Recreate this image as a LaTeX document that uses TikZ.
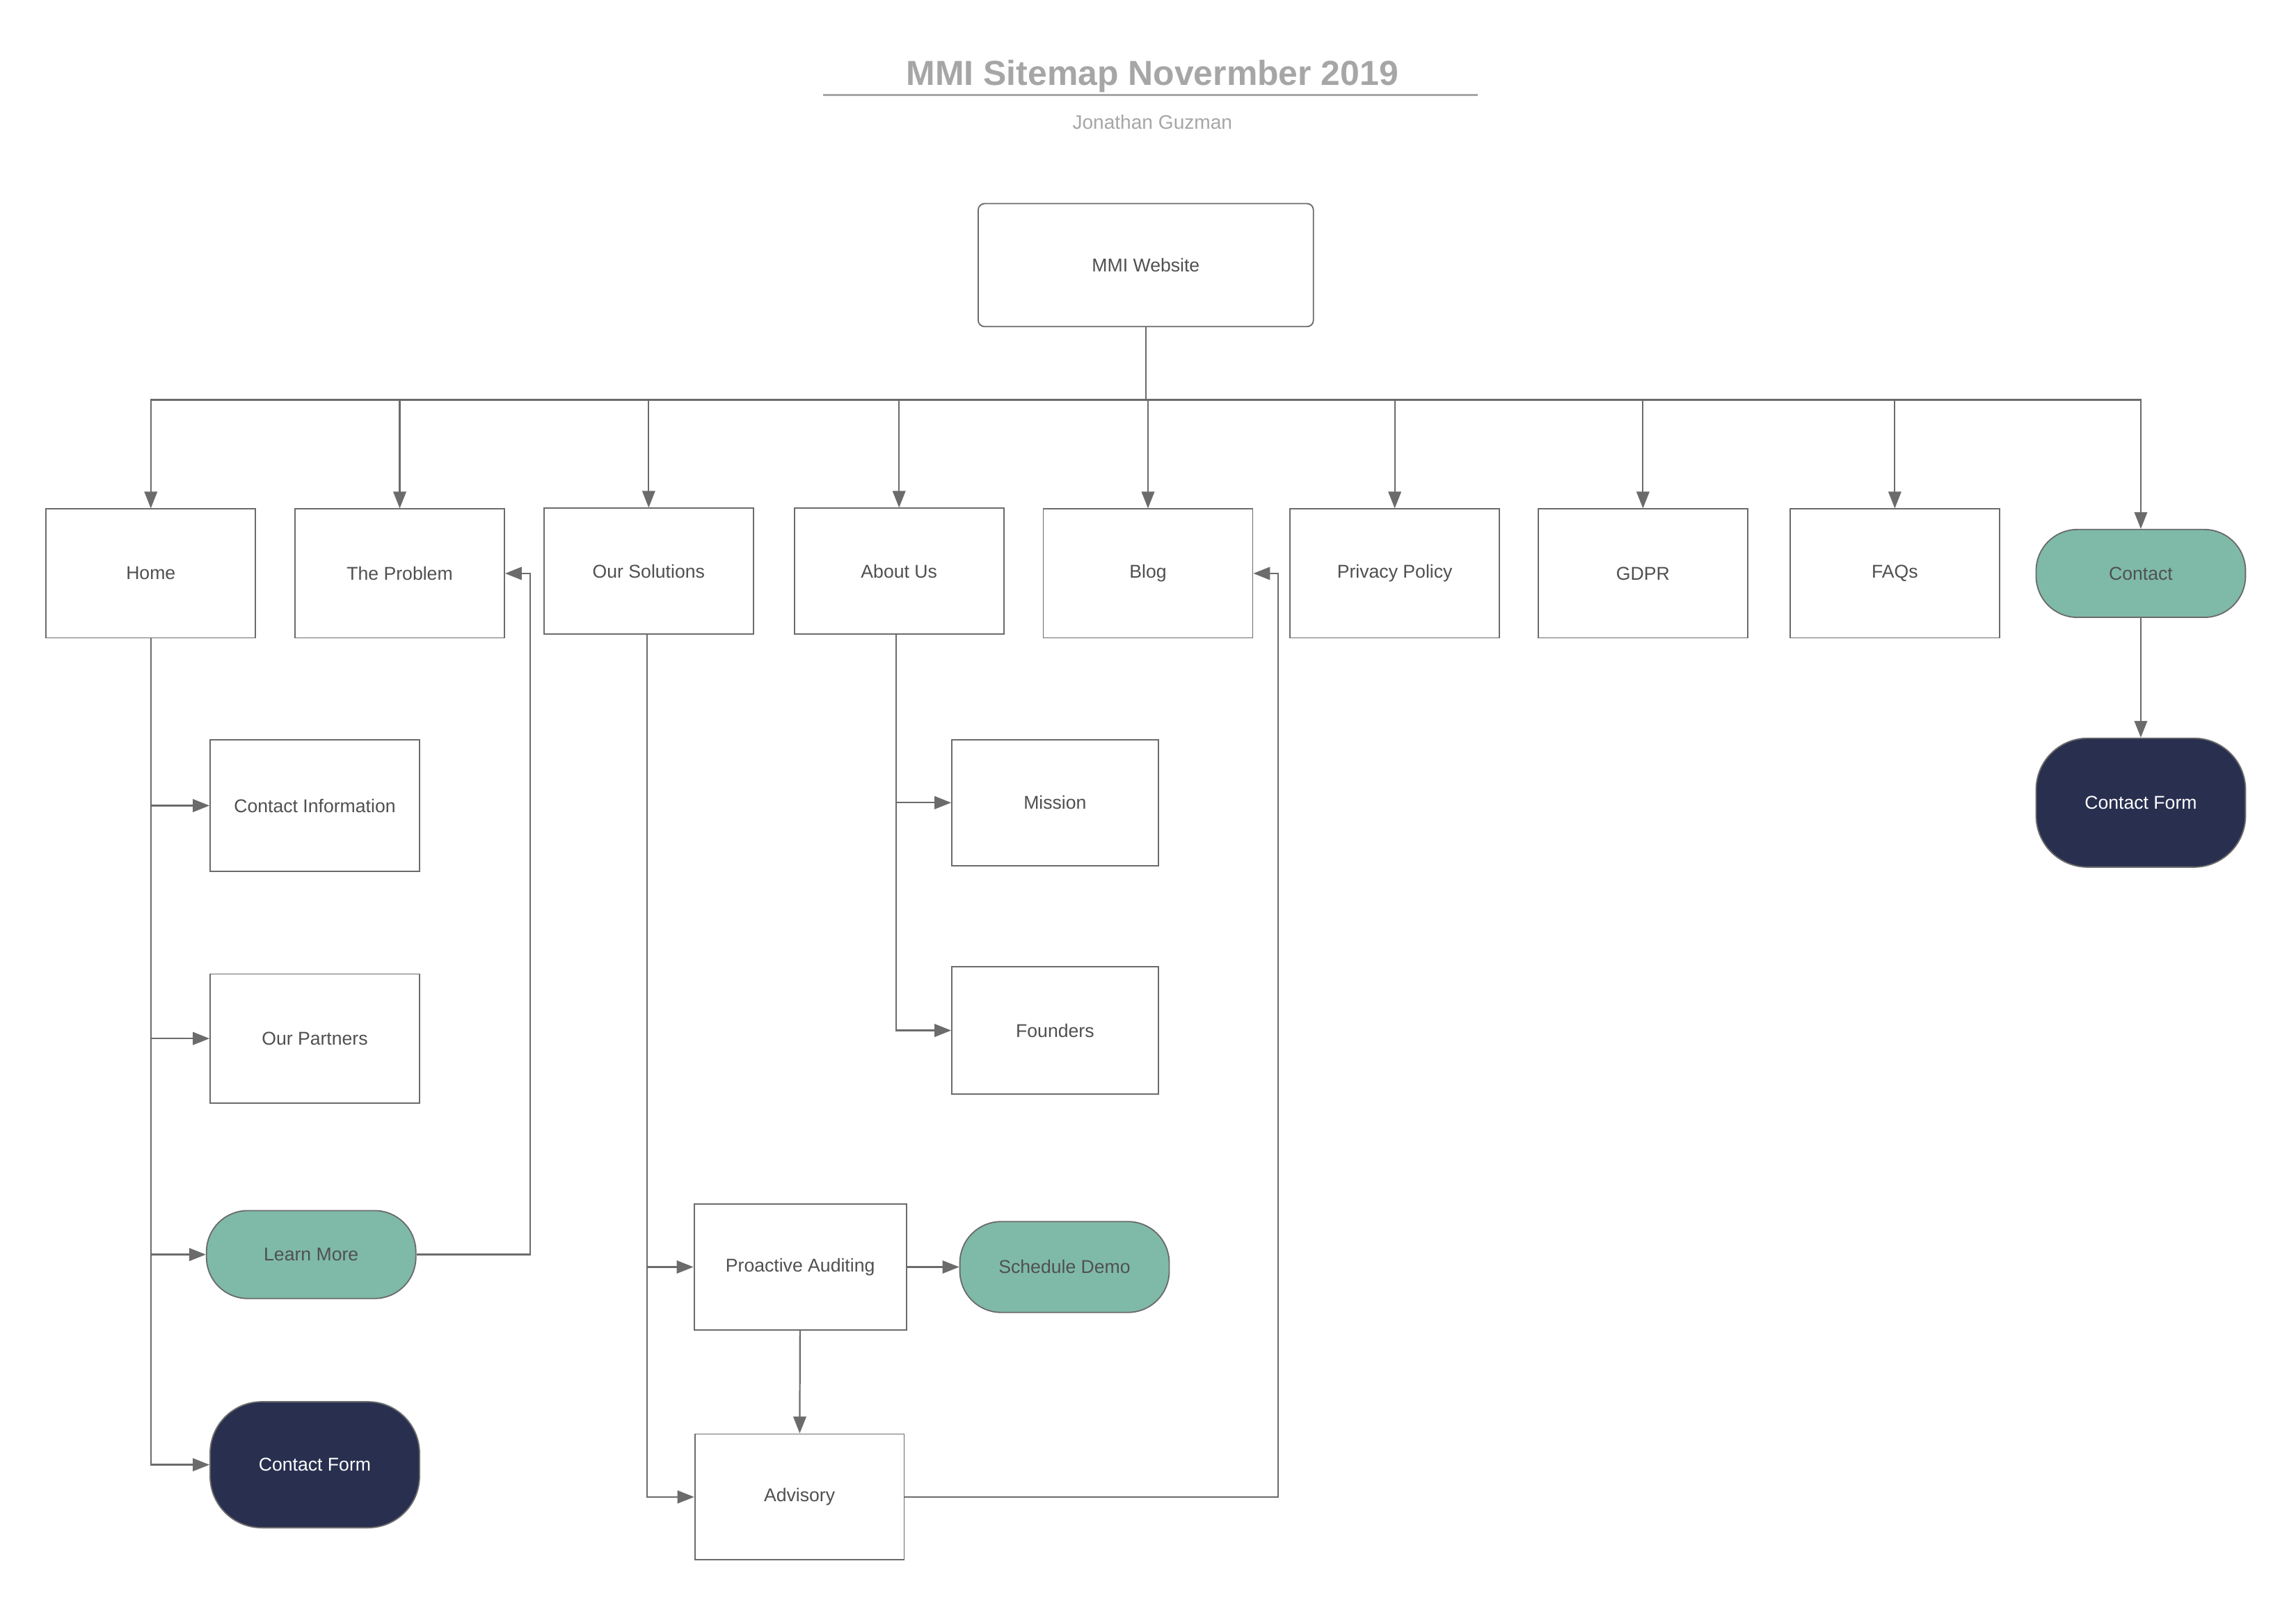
\documentclass[tikz,border=0pt]{standalone}
\usepackage{fontspec}
\setmainfont{Liberation Sans}
\usetikzlibrary{arrows.meta}

\definecolor{linegray}{HTML}{6B6B6B}
\definecolor{textgray}{HTML}{505050}
\definecolor{titlegray}{HTML}{A6A6A6}
\definecolor{sage}{HTML}{7FBAA8}
\definecolor{navy}{HTML}{282F4F}

\tikzset{
  sitebox/.style={draw=linegray, line width=0.5pt, fill=white, text=textgray, inner sep=0pt,
    font=\fontsize{7.2}{8.6}\selectfont, minimum width=2.86cm, minimum height=1.76cm},
  greenpill/.style={sitebox, fill=sage, rounded corners=16pt, minimum height=1.2cm},
  navypill/.style={sitebox, fill=navy, text=white, rounded corners=20pt},
  link/.style={draw=linegray, line width=0.6pt, -{Triangle[length=6.5pt, width=5pt]}}
}

\begin{document}
\begin{tikzpicture}[x=0.02cm, y=-0.02cm]
\useasboundingbox (0,0) rectangle (1568,1097);

\node[anchor=base, text=titlegray, font=\bfseries\fontsize{13.5}{16}\selectfont] (title) at (787,58) {MMI Sitemap Novermber 2019};
\draw[titlegray, line width=0.8pt] (562,65) -- (1009,65);
\node[anchor=base, text=titlegray, font=\fontsize{7.6}{9}\selectfont] (author) at (787,88) {Jonathan Guzman};

\node[sitebox, rounded corners=2.5pt, minimum width=4.58cm, minimum height=1.68cm] (web) at (782.5,181) {MMI Website};
\coordinate (bus) at (782,273);

\node[sitebox] (home) at (103,391.5) {Home};
\node[sitebox] (problem) at (273,391.5) {The Problem};
\node[sitebox, minimum height=1.72cm] (solutions) at (443,390) {Our Solutions};
\node[sitebox, minimum height=1.72cm] (about) at (614,390) {About Us};
\node[sitebox] (blog) at (784,391.5) {Blog};
\node[sitebox] (privacy) at (952.5,391.5) {Privacy Policy};
\node[sitebox] (gdpr) at (1122,391.5) {GDPR};
\node[sitebox] (faqs) at (1294,391.5) {FAQs};
\node[greenpill] (contact) at (1462,391.5) {Contact};
\node[navypill] (cformr) at (1462,548) {Contact Form};

\node[sitebox, minimum height=1.8cm] (cinfo) at (215,550) {Contact Information};
\node[sitebox] (partners) at (215,709) {Our Partners};
\node[greenpill] (learn) at (212.5,856.5) {Learn More};
\node[navypill, minimum height=1.72cm] (cforml) at (215,1000) {Contact Form};

\node[sitebox, minimum width=2.82cm, minimum height=1.72cm] (mission) at (720.5,548) {Mission};
\node[sitebox, minimum width=2.82cm, minimum height=1.74cm] (founders) at (720.5,703.5) {Founders};

\node[sitebox, minimum width=2.9cm, minimum height=1.72cm] (audit) at (546.5,865) {Proactive Auditing};
\node[sitebox, minimum height=1.72cm] (advisory) at (546,1022) {Advisory};
\node[greenpill, minimum height=1.24cm] (demo) at (727,865) {Schedule Demo};

\foreach \n in {home,problem,solutions,about,blog,privacy,gdpr,faqs,contact}
  \draw[link] (web.south) -- (web.south |- bus) -| (\n.north);
\draw[link] (contact) -- (cformr);

\foreach \n in {cinfo,partners,learn,cforml}
  \draw[link] (home.south) |- (\n.west);
\coordinate (lmturn) at (362,391.5);
\draw[link] (learn.east) -| (lmturn) -- (problem.east);

\foreach \n in {mission,founders}
  \draw[link] (about.south -| 612,0) |- (\n.west);

\foreach \n in {audit,advisory}
  \draw[link] (solutions.south -| 442,0) |- (\n.west);
\draw[link] (audit) -- (demo);
\draw[link] (audit) -- (advisory);
\coordinate (advturn) at (873,391.5);
\draw[link] (advisory.east) -| (advturn) -- (blog.east);
\end{tikzpicture}
\end{document}
